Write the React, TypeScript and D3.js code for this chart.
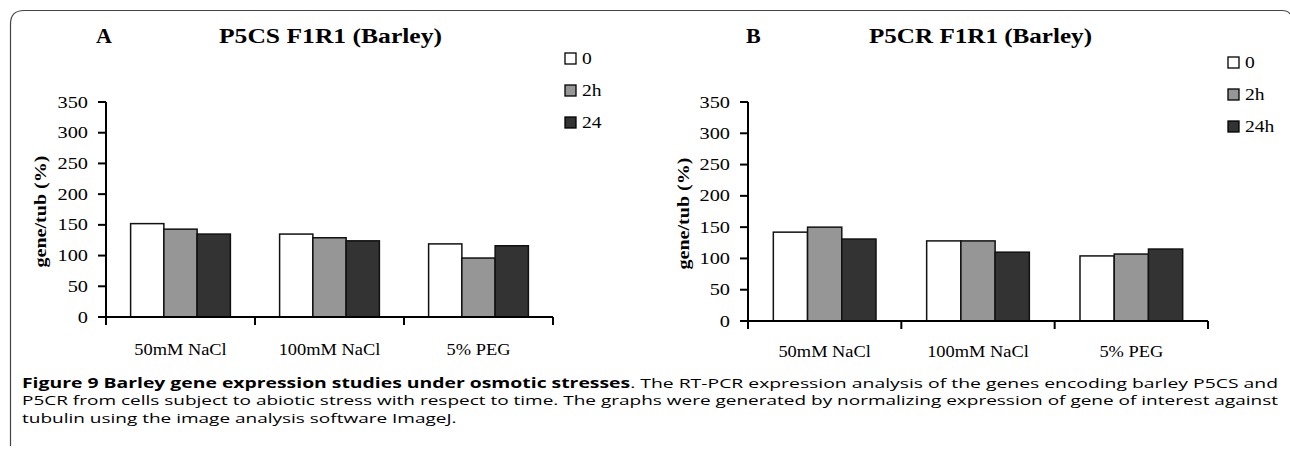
import React, { useEffect, useRef, useState } from "react";
import * as d3 from "d3";

// categories on the x axis
const categories = ["50mM NaCl", "100mM NaCl", "5% PEG"];
const yTicks = [0, 50, 100, 150, 200, 250, 300, 350];
const seriesColors = ["#ffffff", "#969696", "#333333"];

// panel A: P5CS
const p5csLegend = ["0", "2h", "24"];
const p5cs0 = [152, 135, 119];
const p5cs2h = [143, 129, 96];
const p5cs24 = [135, 124, 116];

// panel B: P5CR
const p5crLegend = ["0", "2h", "24h"];
const p5cr0 = [142, 128, 104];
const p5cr2h = [150, 128, 107];
const p5cr24 = [131, 110, 115];

const captionBold = "Figure 9 Barley gene expression studies under osmotic stresses";
const captionLines = [
  ". The RT-PCR expression analysis of the genes encoding barley P5CS and",
  "P5CR from cells subject to abiotic stress with respect to time. The graphs were generated by normalizing expression of gene of interest against",
  "tubulin using the image analysis software ImageJ.",
];

const serif = "'Liberation Serif', 'Times New Roman', serif";
const sans = "'Open Sans', 'Noto Sans', sans-serif";

interface PanelProps {
  letter: string;
  title: string;
  legend: string[];
  series: number[][];
  x0: number;
  x1: number;
  yBottom: number;
  yTop: number;
  labelX: number;
  catY: number;
  letterX: number;
  titleX: number;
  titleW: number;
  legendX: number;
  legendY: number;
}

// the scan is stretched sideways, so serif text is widened a bit
const Wide: React.FC<{
  x: number;
  y: number;
  anchor?: "start" | "middle" | "end";
  size: number;
  sx?: number;
  children: React.ReactNode;
}> = ({ x, y, anchor = "start", size, sx = 1.15, children }) => (
  <text
    transform={`translate(${x},${y}) scale(${sx},1)`}
    textAnchor={anchor}
    dy="0.35em"
    fontFamily={serif}
    fontSize={size}
  >
    {children}
  </text>
);

const BarPanel: React.FC<PanelProps> = ({
  letter,
  title,
  legend,
  series,
  x0,
  x1,
  yBottom,
  yTop,
  labelX,
  catY,
  letterX,
  titleX,
  titleW,
  legendX,
  legendY,
}) => {
  const y = d3.scaleLinear().domain([0, 350]).range([yBottom, yTop]);
  const xBand = d3.scaleBand<string>().domain(categories).range([x0, x1]).padding(0);
  const xInner = d3
    .scaleBand<string>()
    .domain(legend)
    .range([0, xBand.bandwidth()])
    .paddingInner(0)
    .paddingOuter(0.74);

  return (
    <g>
      <text x={letterX} y={43} fontFamily={serif} fontWeight="bold" fontSize={22}>
        {letter}
      </text>
      <text
        x={titleX}
        y={43}
        fontFamily={serif}
        fontWeight="bold"
        fontSize={22}
        textLength={titleW}
        lengthAdjust="spacingAndGlyphs"
      >
        {title}
      </text>

      {/* y axis */}
      <line x1={x0} x2={x0} y1={yTop} y2={yBottom} stroke="#000" strokeWidth={2} />
      {yTicks.map((t) => (
        <g key={t}>
          <line x1={x0 - 8} x2={x0} y1={y(t)} y2={y(t)} stroke="#000" strokeWidth={2} />
          <Wide x={x0 - 18} y={y(t)} anchor="end" size={16} sx={1.27}>
            {t}
          </Wide>
        </g>
      ))}
      <text
        transform={`translate(${labelX},${(yTop + yBottom) / 2 + 2}) rotate(-90)`}
        textAnchor="middle"
        dy="0.35em"
        fontFamily={serif}
        fontWeight="bold"
        fontSize={17}
        textLength={112}
        lengthAdjust="spacingAndGlyphs"
      >
        gene/tub (%)
      </text>

      {/* bars */}
      {categories.map((c, ci) => (
        <g key={c} transform={`translate(${xBand(c)},0)`}>
          {legend.map((s, si) => (
            <rect
              key={s}
              x={xInner(s)}
              y={y(series[si][ci])}
              width={xInner.bandwidth()}
              height={yBottom - y(series[si][ci])}
              fill={seriesColors[si]}
              stroke="#111"
              strokeWidth={1.5}
            />
          ))}
        </g>
      ))}

      {/* x axis */}
      <line x1={x0} x2={x1} y1={yBottom} y2={yBottom} stroke="#000" strokeWidth={2} />
      {[...categories.map((c) => xBand(c) as number), x1].map((tx, i) => (
        <line key={i} x1={tx} x2={tx} y1={yBottom} y2={yBottom + 8} stroke="#000" strokeWidth={2} />
      ))}
      {categories.map((c) => (
        <Wide
          key={c}
          x={(xBand(c) as number) + xBand.bandwidth() / 2}
          y={catY}
          anchor="middle"
          size={16}
        >
          {c}
        </Wide>
      ))}

      {/* legend */}
      {legend.map((s, si) => (
        <g key={s} transform={`translate(${legendX},${legendY + si * 32})`}>
          <rect x={0} y={0} width={11} height={11} fill={seriesColors[si]} stroke="#000" strokeWidth={1.3} />
          <Wide x={17} y={5.5} size={17}>
            {s}
          </Wide>
        </g>
      ))}
    </g>
  );
};

const App: React.FC = () => {
  const line2Ref = useRef<SVGTextElement>(null);
  const line3Ref = useRef<SVGTextElement>(null);
  const [line3W, setLine3W] = useState<number | undefined>(undefined);

  useEffect(() => {
    document.body.style.margin = "0";
    // last caption line keeps the same sideways stretch as the justified ones
    if (line2Ref.current && line3Ref.current) {
      line2Ref.current.removeAttribute("textLength");
      const w2 = line2Ref.current.getComputedTextLength();
      const w3 = line3Ref.current.getComputedTextLength();
      line2Ref.current.setAttribute("textLength", "1256");
      if (w2 > 0) setLine3W((w3 * 1256) / w2);
    }
  }, []);

  const capX = 22;
  const capW = 1256;

  return (
    <svg width={1290} height={452} style={{ display: "block", background: "#fff" }}>
      {/* frame */}
      <path
        d="M10.5,446 V24 Q10.5,10.5 24,10.5 H1282 Q1288,10.5 1290,14"
        fill="none"
        stroke="#444"
        strokeWidth={1.2}
      />

      <BarPanel
        letter="A"
        title="P5CS F1R1 (Barley)"
        legend={p5csLegend}
        series={[p5cs0, p5cs2h, p5cs24]}
        x0={106}
        x1={553}
        yBottom={317}
        yTop={102}
        labelX={40}
        catY={349}
        letterX={96}
        titleX={219}
        titleW={223}
        legendX={565}
        legendY={53}
      />
      <BarPanel
        letter="B"
        title="P5CR F1R1 (Barley)"
        legend={p5crLegend}
        series={[p5cr0, p5cr2h, p5cr24]}
        x0={748}
        x1={1208}
        yBottom={321}
        yTop={102}
        labelX={683}
        catY={351}
        letterX={746}
        titleX={869}
        titleW={223}
        legendX={1228}
        legendY={57}
      />

      {/* caption */}
      <text
        x={capX}
        y={383}
        dy="0.35em"
        fontFamily={sans}
        fontSize={13.5}
        textLength={capW}
        lengthAdjust="spacingAndGlyphs"
      >
        <tspan fontWeight="bold">{captionBold}</tspan>
        <tspan>{captionLines[0]}</tspan>
      </text>
      <text
        ref={line2Ref}
        x={capX}
        y={400.5}
        dy="0.35em"
        fontFamily={sans}
        fontSize={13.5}
        textLength={capW}
        lengthAdjust="spacingAndGlyphs"
      >
        {captionLines[1]}
      </text>
      <text
        ref={line3Ref}
        x={capX}
        y={418}
        dy="0.35em"
        fontFamily={sans}
        fontSize={13.5}
        textLength={line3W}
        lengthAdjust="spacingAndGlyphs"
      >
        {captionLines[2]}
      </text>
    </svg>
  );
};

export default App;
